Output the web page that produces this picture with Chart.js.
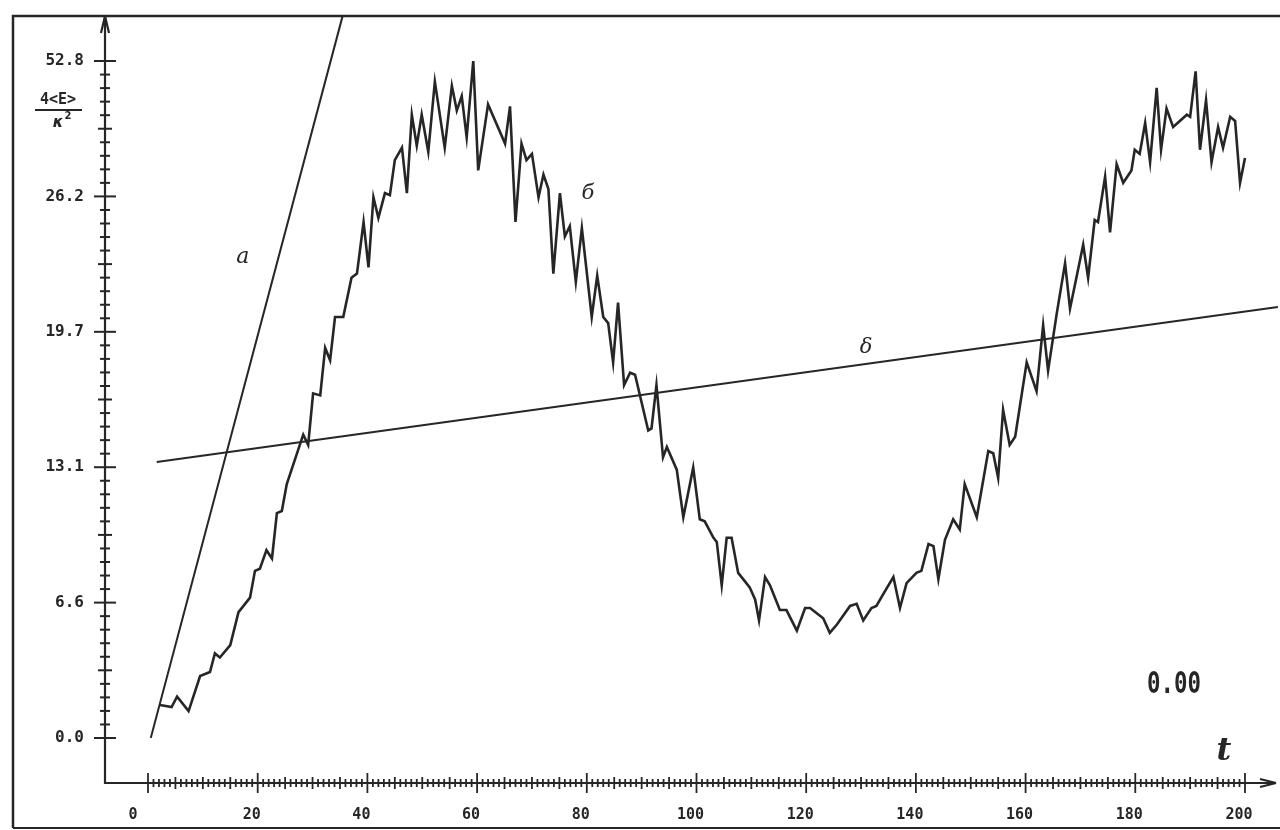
<!DOCTYPE html>
<html>
<head>
<meta charset="utf-8">
<script src="https://cdn.jsdelivr.net/npm/chart.js@4/dist/chart.umd.min.js"></script>
<style>
html,body{margin:0;padding:0;background:#fff;}
canvas{display:block;}
</style>
</head>
<body>
<canvas id="c" width="1280" height="830"></canvas>
<script>
// ---- data ----
const xTickValues = [0,20,40,60,80,100,120,140,160,180,200];
const xTickLabels = ['0','20','40','60','80','100','120','140','160','180','200'];
const yTickValues = [0,6.56,13.12,19.68,26.24,32.8];
const yTickLabels = ['0.0','6.6','13.1','19.7','26.2','52.8'];

// line a
const aT = [0.5, 35.5];
const aV = [0.0, 35.0];
// line δ
const dT = [1.6, 206];
const dV = [13.37, 20.88];
// curve б
const bT = [2.2,4.3,5.3,7.4,9.5,11.3,12.2,13.1,15.0,16.5,
18.6,19.5,20.4,21.6,22.6,23.5,24.4,25.3,28.3,29.2,
30.1,31.4,32.3,33.2,34.1,35.6,37.1,38.1,39.3,40.2,
41.1,42.0,43.2,44.1,45.0,46.3,47.2,48.1,49.0,49.9,
51.1,52.3,54.1,55.4,56.3,57.2,58.1,59.3,60.2,62.0,
65.1,66.0,67.0,68.1,69.0,70.0,71.2,72.1,73.0,73.9,
75.1,76.0,76.9,78.0,79.1,80.9,81.9,83.0,83.9,84.8,
85.7,86.8,87.9,88.8,91.2,91.8,92.7,93.9,94.6,96.4,
97.6,99.4,100.6,101.5,103.1,103.7,104.6,105.5,106.4,107.6,
108.8,109.7,110.7,111.4,112.5,113.4,115.2,116.4,118.3,119.8,
120.7,123.1,124.3,125.6,128.0,129.2,130.4,131.9,132.8,134.1,
135.9,137.1,138.3,140.1,141.0,142.3,143.2,144.1,145.3,146.8,
148.0,148.9,151.1,153.2,154.1,155.0,155.9,157.1,158.1,160.2,
162.0,163.2,164.1,165.7,167.2,168.1,170.5,171.4,172.6,173.2,
174.5,175.4,176.6,177.8,179.3,179.9,180.8,181.8,182.7,183.9,
184.7,185.7,186.9,189.4,190.0,191.0,191.8,192.9,193.9,195.1,
196.0,197.3,198.2,199.1,200.0];
const bV = [1.6,1.5,2.0,1.3,3.0,3.2,4.1,3.9,4.5,6.1,
6.8,8.1,8.2,9.1,8.7,10.9,11.0,12.3,14.7,14.2,
16.7,16.6,18.9,18.3,20.4,20.4,22.3,22.5,25.0,22.8,
26.2,25.2,26.4,26.3,28.0,28.6,26.4,30.2,28.7,30.2,
28.4,31.8,28.6,31.6,30.4,31.1,29.1,32.8,27.5,30.7,
28.8,30.6,25.0,28.8,28.0,28.3,26.2,27.3,26.6,22.5,
26.4,24.3,24.8,22.1,24.7,20.4,22.4,20.4,20.1,18.2,
21.1,17.1,17.7,17.6,14.9,15.0,17.1,13.6,14.1,13.0,
10.7,13.1,10.6,10.5,9.7,9.5,7.4,9.7,9.7,8.0,
7.6,7.3,6.7,5.7,7.8,7.4,6.2,6.2,5.2,6.3,
6.3,5.8,5.1,5.5,6.4,6.5,5.7,6.3,6.4,7.0,
7.8,6.3,7.5,8.0,8.1,9.4,9.3,7.7,9.6,10.6,
10.1,12.3,10.7,13.9,13.8,12.6,15.9,14.2,14.6,18.2,
16.8,20.0,17.8,20.6,23.0,20.8,23.9,22.3,25.1,25.0,
27.2,24.5,27.8,26.9,27.5,28.5,28.3,29.8,27.9,31.5,
28.5,30.5,29.6,30.2,30.1,32.3,28.5,30.9,27.9,29.6,
28.6,30.1,29.9,26.9,28.1];

const X_MIN = -7.84, X_MAX = 206.02;
const Y_MIN = -2.18, Y_MAX = 35.03;
const INK = '#262626';

const toPts = (T, V) => T.map((t, i) => ({x: t, y: V[i]}));

const axesPlugin = {
  id: 'axesPlugin',
  afterDraw(chart) {
    const ctx = chart.ctx;
    const xs = chart.scales.x, ys = chart.scales.y;
    const ca = chart.chartArea;
    const ax = xs.getPixelForValue(X_MIN);
    const ay = ys.getPixelForValue(Y_MIN);
    ctx.save();
    ctx.strokeStyle = INK;
    ctx.fillStyle = INK;
    // frame
    ctx.lineWidth = 2.5;
    ctx.beginPath();
    ctx.moveTo(13, 828); ctx.lineTo(13, 16); ctx.lineTo(1280, 16);
    ctx.stroke();
    ctx.lineWidth = 2;
    ctx.beginPath(); ctx.moveTo(13, 828); ctx.lineTo(1280, 828); ctx.stroke();
    // axes
    ctx.lineWidth = 2.2;
    ctx.beginPath();
    ctx.moveTo(ax, ca.top + 2); ctx.lineTo(ax, ay); ctx.lineTo(ca.right - 2, ay);
    ctx.stroke();
    // arrows
    ctx.beginPath();
    ctx.moveTo(ax, ca.top + 1); ctx.lineTo(ax - 4, ca.top + 18); ctx.moveTo(ax, ca.top + 1); ctx.lineTo(ax + 4, ca.top + 18);
    ctx.stroke();
    ctx.beginPath();
    ctx.moveTo(ca.right - 2, ay); ctx.lineTo(ca.right - 18, ay - 4); ctx.moveTo(ca.right - 2, ay); ctx.lineTo(ca.right - 18, ay + 4);
    ctx.stroke();
    // y ticks
    const yMajor = yTickValues[1] - yTickValues[0];
    ctx.lineWidth = 2;
    for (let i = 0; i <= 50; i++) {
      const v = i * yMajor / 10;
      const p = ys.getPixelForValue(v);
      const half = (i % 10 === 0) ? 11 : (i % 5 === 0 ? 7 : 5);
      ctx.beginPath(); ctx.moveTo(ax - half, p); ctx.lineTo(ax + half, p); ctx.stroke();
    }
    // x ticks
    ctx.lineWidth = 1.8;
    for (let i = 0; i <= 200; i++) {
      const p = xs.getPixelForValue(i);
      const half = (i % 20 === 0) ? 10 : (i % 5 === 0 ? 6 : 4);
      ctx.beginPath(); ctx.moveTo(p, ay - half); ctx.lineTo(p, ay + half); ctx.stroke();
    }
    // tick labels
    ctx.font = 'bold 16px "DejaVu Sans Mono"';
    ctx.textAlign = 'right'; ctx.textBaseline = 'middle';
    yTickValues.forEach((v, i) => ctx.fillText(yTickLabels[i], 84, ys.getPixelForValue(v)));
    ctx.font = 'bold 15px "DejaVu Sans Mono"';
    ctx.textAlign = 'center';
    xTickValues.forEach((v, i) => {
      const shift = v === 0 ? -15 : -6;
      ctx.fillText(xTickLabels[i], xs.getPixelForValue(v) + shift, 815);
    });
    // y title fraction
    ctx.font = 'bold 15px "DejaVu Sans Mono"';
    ctx.textAlign = 'center';
    ctx.fillText('4<E>', 58, 100);
    ctx.lineWidth = 2;
    ctx.beginPath(); ctx.moveTo(35, 110); ctx.lineTo(82, 110); ctx.stroke();
    ctx.font = 'bold italic 15px "DejaVu Sans"';
    ctx.fillText('κ', 58, 123);
    ctx.font = 'bold 10px "DejaVu Sans"';
    ctx.fillText('2', 68, 116);
    // curve labels
    ctx.font = 'italic 22px "DejaVu Serif"';
    ctx.fillText('a', xs.getPixelForValue(17.3), ys.getPixelForValue(23.3));
    ctx.font = 'italic 21px "DejaVu Serif"';
    ctx.fillText('б', xs.getPixelForValue(80.2), ys.getPixelForValue(26.4));
    ctx.font = 'italic 21px "DejaVu Serif"';
    ctx.fillText('δ', xs.getPixelForValue(130.9), ys.getPixelForValue(18.9));
    // "0.00"
    ctx.save();
    ctx.font = 'bold 30px "DejaVu Sans Mono"';
    const w = ctx.measureText('0.00').width;
    ctx.translate(1174, 685);
    ctx.scale(54 / w, 1);
    ctx.fillText('0.00', 0, 0);
    ctx.restore();
    // t
    ctx.font = 'bold italic 32px "DejaVu Serif"';
    ctx.fillText('t', 1224, 752);
    ctx.restore();
  }
};

new Chart(document.getElementById('c'), {
  type: 'scatter',
  data: {
    datasets: [
      {data: toPts(aT, aV), showLine: true, borderColor: INK, borderWidth: 2, pointRadius: 0, tension: 0},
      {data: toPts(dT, dV), showLine: true, borderColor: INK, borderWidth: 2, pointRadius: 0, tension: 0},
      {data: toPts(bT, bV), showLine: true, borderColor: INK, borderWidth: 2.6, pointRadius: 0, tension: 0}
    ]
  },
  options: {
    responsive: false,
    animation: false,
    events: [],
    layout: {padding: {left: 105, right: 2, top: 15, bottom: 47}},
    plugins: {legend: {display: false}, tooltip: {enabled: false}},
    scales: {
      x: {type: 'linear', min: X_MIN, max: X_MAX, display: false},
      y: {type: 'linear', min: Y_MIN, max: Y_MAX, display: false}
    }
  },
  plugins: [axesPlugin]
});
</script>
</body>
</html>
